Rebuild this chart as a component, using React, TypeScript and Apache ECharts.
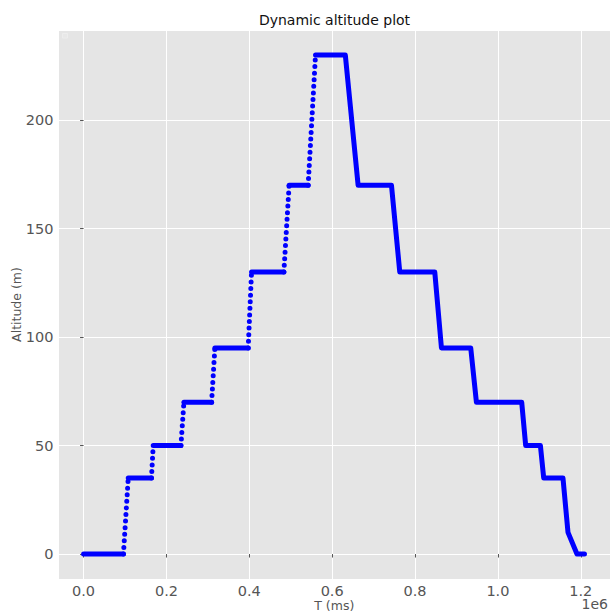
import React, { useEffect, useRef } from "react";
import * as echarts from "echarts";

// Key points of the altitude profile (time in ms, altitude in m)
const T_MS = [
  0, 96200, 107800, 163800, 168100, 234900, 242200, 309000, 316900, 397300,
  405400, 483400, 496100, 542000, 559800, 631700, 662600, 743100, 763100,
  847600, 863700, 934400, 948100, 1057400, 1067000, 1102500, 1110500,
  1157000, 1169100, 1190800, 1208900,
];
const ALT_M = [
  0, 0, 35, 35, 50, 50, 70, 70, 95, 95, 130, 130, 170, 170, 230, 230, 170,
  170, 130, 130, 95, 95, 70, 70, 50, 50, 35, 35, 10, 0, 0,
];

const X_MIN = -60500;
const X_MAX = 1270500;
const Y_MIN = -11.5;
const Y_MAX = 241.5;

const FONT = "DejaVu Sans";
const BLUE = "#0000FF";

export default function App() {
  const ref = useRef<HTMLDivElement>(null);

  useEffect(() => {
    if (!ref.current) return;
    const chart = echarts.init(ref.current, undefined, { renderer: "svg" });

    const series: any[] = [];
    const solid = (pts: number[][]) => ({
      type: "line",
      data: pts,
      symbol: "none",
      showSymbol: false,
      silent: true,
      z: 3,
      lineStyle: { color: BLUE, width: 5, cap: "round", join: "round" },
    });
    const dotted = (pts: number[][]) => ({
      type: "line",
      data: pts,
      symbol: "none",
      showSymbol: false,
      silent: true,
      z: 2,
      lineStyle: { color: BLUE, width: 5, cap: "round", type: [0, 6.6] },
    });
    let current: number[][] | null = null;
    for (let i = 0; i < T_MS.length - 1; i++) {
      const climb = ALT_M[i + 1] > ALT_M[i];
      if (climb) {
        if (current) {
          series.push(solid(current));
          current = null;
        }
        series.push(
          dotted([
            [T_MS[i], ALT_M[i]],
            [T_MS[i + 1], ALT_M[i + 1]],
          ])
        );
      } else {
        if (!current) current = [[T_MS[i], ALT_M[i]]];
        current.push([T_MS[i + 1], ALT_M[i + 1]]);
      }
    }
    if (current) series.push(solid(current));

    chart.setOption({
      animation: false,
      backgroundColor: "#FFFFFF",
      grid: {
        left: 58.5,
        right: 0,
        top: 30,
        bottom: 33,
        show: true,
        backgroundColor: "#E5E5E5",
        borderWidth: 0,
        containLabel: false,
        outerBoundsMode: "none",
      },
      xAxis: {
        type: "value",
        min: X_MIN,
        max: X_MAX,
        splitNumber: 7,
        axisLine: { show: false },
        axisTick: { show: true, length: 3.5, lineStyle: { color: "#555555", width: 1 } },
        axisLabel: {
          color: "#555555",
          fontSize: 14.5,
          fontFamily: FONT,
          margin: 4,
          showMinLabel: false,
          showMaxLabel: false,
          formatter: (v: number) => (v / 1e6).toFixed(1),
        },
        splitLine: { show: true, lineStyle: { color: "#FFFFFF", width: 1 } },
        name: "T (ms)",
        nameLocation: "middle",
        nameGap: 20,
        nameMoveOverlap: false,
        nameTextStyle: { color: "#555555", fontSize: 12.5, fontFamily: FONT },
      },
      yAxis: {
        type: "value",
        min: Y_MIN,
        max: Y_MAX,
        splitNumber: 5,
        axisLine: { show: false },
        axisTick: { show: true, length: 3.5, lineStyle: { color: "#555555", width: 1 } },
        axisLabel: {
          color: "#555555",
          fontSize: 14.5,
          fontFamily: FONT,
          margin: 5,
          showMinLabel: false,
          showMaxLabel: false,
          formatter: (v: number) => String(Math.round(v)),
        },
        splitLine: { show: true, lineStyle: { color: "#FFFFFF", width: 1 } },
        name: "Altitude (m)",
        nameLocation: "middle",
        nameGap: 36,
        nameMoveOverlap: false,
        nameTextStyle: { color: "#555555", fontSize: 12.5, fontFamily: FONT },
      },
      graphic: [
        {
          type: "text",
          x: 334.5,
          y: 19.5,
          silent: true,
          style: {
            text: "Dynamic altitude plot",
            fill: "#111111",
            font: `14px "${FONT}"`,
            align: "center",
            verticalAlign: "middle",
          },
        },
        {
          type: "text",
          x: 608,
          y: 611,
          silent: true,
          style: {
            text: "1e6",
            fill: "#555555",
            font: `14px "${FONT}"`,
            align: "right",
            verticalAlign: "bottom",
          },
        },
        {
          type: "rect",
          silent: true,
          shape: { x: 62.5, y: 33.5, width: 5, height: 4.5 },
          style: { fill: "#E8E8E8", stroke: "#EDEDED", lineWidth: 1 },
        },
      ],
      series,
    });

    return () => chart.dispose();
  }, []);

  return (
    <div
      ref={ref}
      style={{ position: "fixed", left: 0, top: 0, width: 610, height: 612 }}
    />
  );
}
